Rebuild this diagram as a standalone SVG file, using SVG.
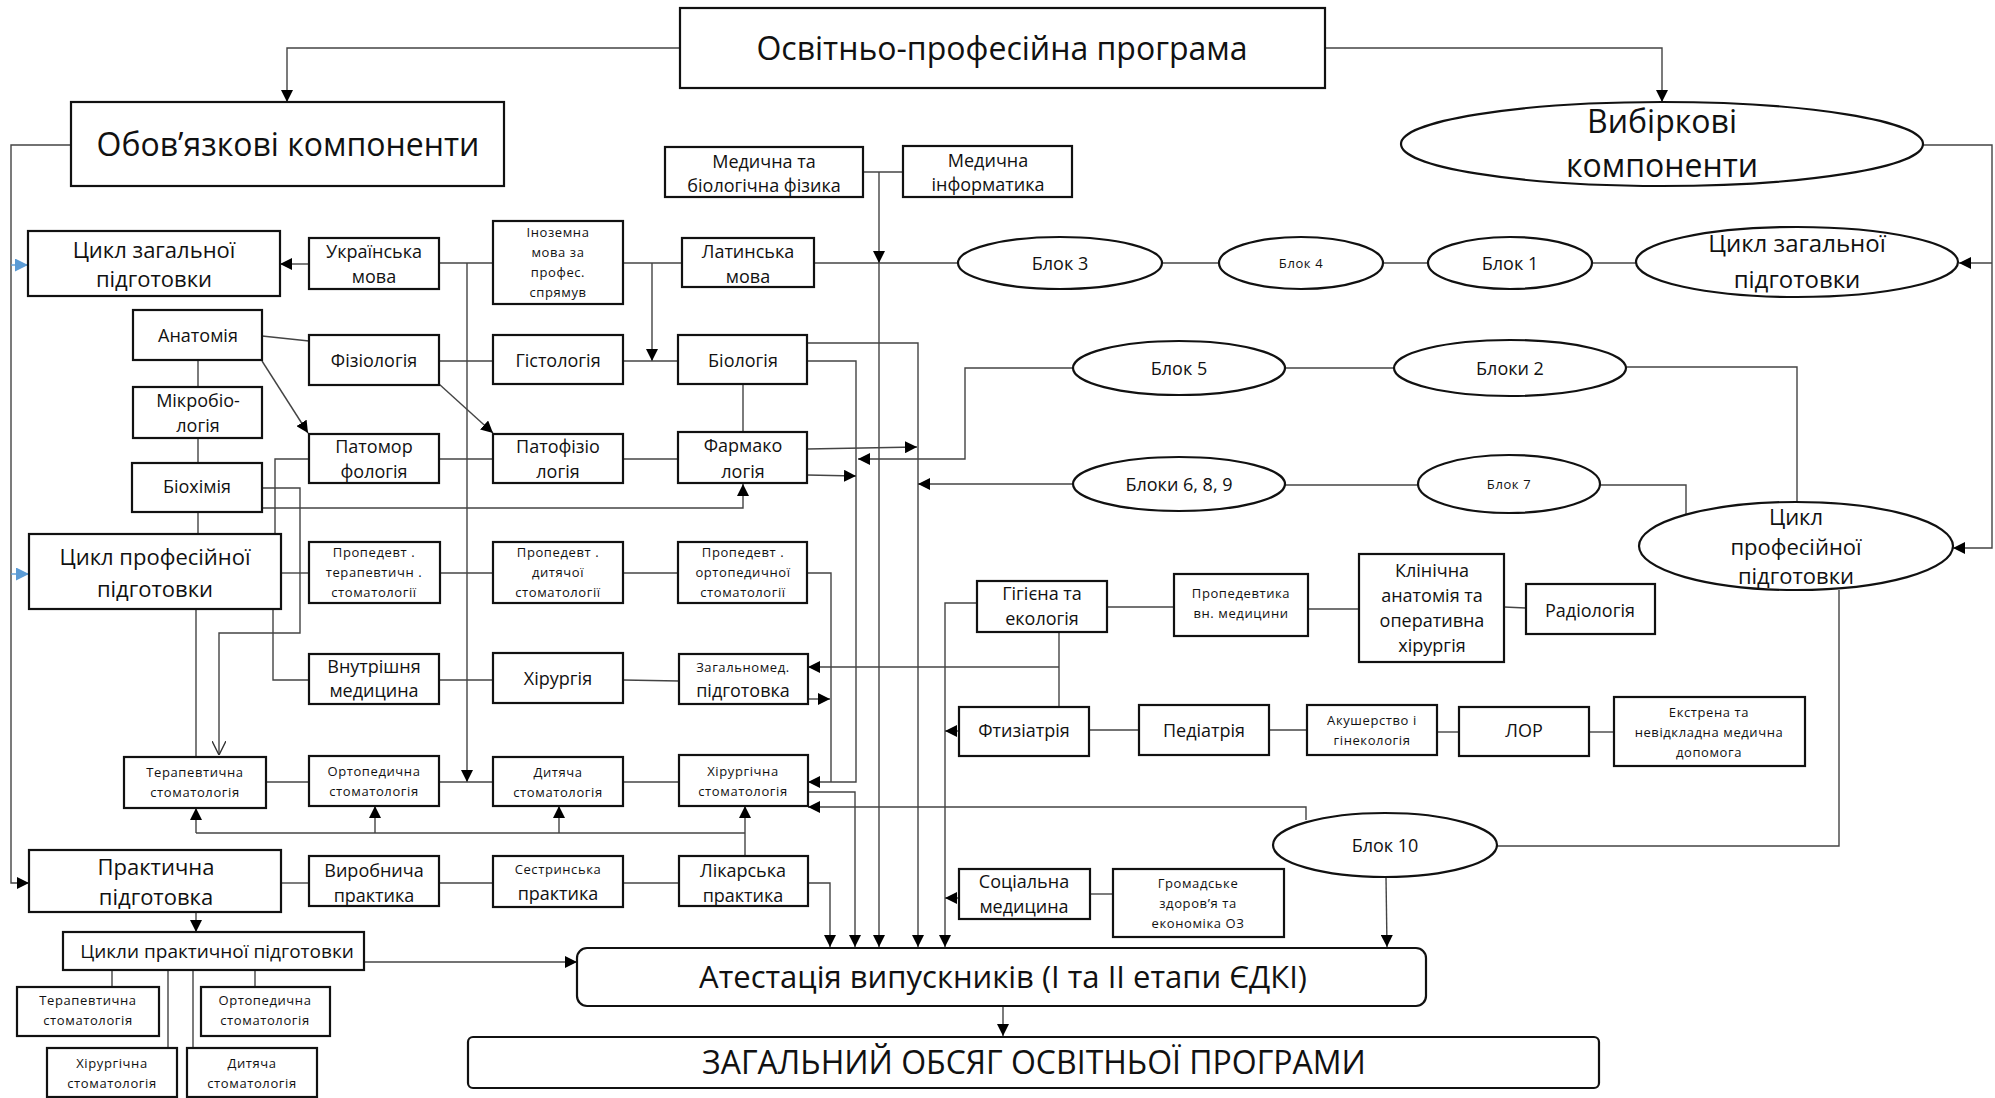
<svg xmlns="http://www.w3.org/2000/svg" width="1995" height="1098" viewBox="0 0 1995 1098">
<defs>
<marker id="ah" viewBox="0 0 12 12" refX="12" refY="6" markerWidth="12" markerHeight="12" orient="auto" markerUnits="userSpaceOnUse"><path d="M0,0 L12,6 L0,12 z" fill="#000"/></marker>
<marker id="ahb" viewBox="0 0 12 12" refX="12" refY="6" markerWidth="13" markerHeight="13" orient="auto" markerUnits="userSpaceOnUse"><path d="M0,0 L12,6 L0,12 z" fill="#5b9bd5"/></marker>
<marker id="aho" viewBox="0 0 12 12" refX="12" refY="6" markerWidth="14" markerHeight="14" orient="auto" markerUnits="userSpaceOnUse"><path d="M0,0 L12,6 L0,12" fill="none" stroke="#333" stroke-width="1.2"/></marker>
</defs>
<style>
rect,ellipse{fill:#fff;stroke:#111;stroke-width:2.2}
text{font-family:"Open Sans","Noto Sans",sans-serif;fill:#111;text-anchor:middle}
.b{font-size:32px}
.m{font-size:22px}
.n{font-size:18px}
.s{font-size:13px;letter-spacing:0.6px}
#conn polyline,#conn line{fill:none;stroke:#444;stroke-width:1.4}
#conn .a{marker-end:url(#ah)}
</style>
<rect width="1995" height="1098" style="fill:#fff;stroke:none"/>

<g id="conn">
<polyline points="680,48 287,48 287,102" class="a"/>
<polyline points="1325,48 1662,48 1662,102" class="a"/>
<polyline points="71,145 11,145 11,883 29,883" class="a"/>
<line x1="11" y1="265" x2="28" y2="265" style="stroke:#5b9bd5;marker-end:url(#ahb)"/>
<line x1="11" y1="574" x2="29" y2="574" style="stroke:#5b9bd5;marker-end:url(#ahb)"/>
<polyline points="309,264 280,264" class="a"/>
<polyline points="439,263 493,263"/>
<polyline points="467,263 467,782" class="a"/>
<polyline points="623,263 682,263"/>
<polyline points="652,263 652,361" class="a"/>
<polyline points="814,263 958,263"/>
<polyline points="863,172 903,172"/>
<polyline points="879,172 879,263" class="a"/>
<polyline points="879,263 879,947" class="a"/>
<polyline points="1162,263 1219,263"/>
<polyline points="1383,263 1428,263"/>
<polyline points="1592,263 1636,263"/>
<polyline points="1923,145 1992,145 1992,548 1953,548" class="a"/>
<polyline points="1992,263 1959,263" class="a"/>
<polyline points="262,336 309,341"/>
<polyline points="198,360 198,387"/>
<polyline points="198,438 198,463"/>
<polyline points="198,512 198,534"/>
<polyline points="262,361 308,433" class="a"/>
<polyline points="439,361 493,361"/>
<polyline points="439,384 493,433" class="a"/>
<polyline points="623,361 678,361"/>
<polyline points="807,343 918,343 918,947" class="a"/>
<polyline points="807,361 856,361 856,782 808,782" class="a"/>
<polyline points="743,384 743,432"/>
<polyline points="439,459 493,459"/>
<polyline points="623,459 678,459"/>
<polyline points="807,449 917,447" class="a"/>
<polyline points="807,475 856,476" class="a"/>
<polyline points="1073,368 965,368 965,459 858,459" class="a"/>
<polyline points="1073,484 918,484" class="a"/>
<polyline points="1285,368 1394,368"/>
<polyline points="1285,485 1418,485"/>
<polyline points="1626,367 1797,367 1797,502"/>
<polyline points="1600,485 1686,485 1686,514"/>
<polyline points="309,459 275,459 275,534"/>
<polyline points="273,609 273,680 309,680"/>
<polyline points="262,488 300,488 300,633 219,633 219,755" style="marker-end:url(#aho)"/>
<polyline points="262,508 743,508 743,484" class="a"/>
<polyline points="281,573 309,573"/>
<polyline points="440,573 493,573"/>
<polyline points="623,573 678,573"/>
<polyline points="807,573 831,573 831,782"/>
<polyline points="808,699 830,699" class="a"/>
<polyline points="1059,667 808,667" class="a"/>
<polyline points="439,680 493,680"/>
<polyline points="623,680 679,681"/>
<polyline points="196,609 196,757"/>
<polyline points="266,782 309,782"/>
<polyline points="439,782 493,782"/>
<polyline points="623,782 679,782"/>
<polyline points="808,792 855,792 855,947" class="a"/>
<polyline points="1306,820 1306,807 808,807" class="a"/>
<polyline points="745,856 745,806" class="a"/>
<polyline points="196,833 745,833"/>
<polyline points="196,833 196,808" class="a"/>
<polyline points="375,833 375,806" class="a"/>
<polyline points="559,833 559,806" class="a"/>
<polyline points="281,883 309,883"/>
<polyline points="439,883 493,883"/>
<polyline points="623,883 679,883"/>
<polyline points="808,883 830,883 830,947" class="a"/>
<polyline points="196,912 196,932" class="a"/>
<polyline points="364,962 577,962" class="a"/>
<polyline points="112,970 112,987"/>
<polyline points="255,970 255,987"/>
<polyline points="168,970 168,1048"/>
<polyline points="193,970 193,1048"/>
<polyline points="977,603 945,603 945,947" class="a"/>
<polyline points="959,731 945,731" class="a"/>
<polyline points="959,898 945,898" class="a"/>
<polyline points="1107,607 1174,607"/>
<polyline points="1308,609 1359,609"/>
<polyline points="1504,607 1526,608"/>
<polyline points="1059,632 1059,707"/>
<polyline points="1089,730 1139,730"/>
<polyline points="1269,730 1307,730"/>
<polyline points="1437,732 1459,732"/>
<polyline points="1589,732 1614,732"/>
<polyline points="1090,894 1113,894"/>
<polyline points="1839,590 1839,846 1497,846"/>
<polyline points="1386,877 1387,947" class="a"/>
<polyline points="1003,1006 1003,1036" class="a"/>
</g>

<g id="n-top"><rect x="680" y="8" width="645" height="80"/><text class="b" x="1002" y="60">Освітньо-професійна програма</text></g>
<g id="n-obov"><rect x="71" y="102" width="433" height="84"/><text class="b" x="288" y="156">Обов’язкові компоненти</text></g>
<g id="n-vyb"><ellipse cx="1662" cy="144" rx="261" ry="42"/><text class="b" x="1662" y="133">Вибіркові</text><text class="b" x="1662" y="177">компоненти</text></g>

<g id="n-czp"><rect x="28" y="231" width="252" height="65"/><text class="m" x="154" y="258">Цикл загальної</text><text class="m" x="154" y="287">підготовки</text></g>
<g id="n-ukr"><rect x="309" y="238" width="130" height="51"/><text class="n" x="374" y="258">Українська</text><text class="n" x="374" y="283">мова</text></g>
<g id="n-inoz"><rect x="493" y="221" width="130" height="83"/><text class="s" x="558" y="237">Іноземна</text><text class="s" x="558" y="257">мова за</text><text class="s" x="558" y="277">профес.</text><text class="s" x="558" y="297">спрямув</text></g>
<g id="n-medfiz"><rect x="665" y="147" width="198" height="50"/><text class="n" x="764" y="168">Медична та</text><text class="n" x="764" y="192">біологічна фізика</text></g>
<g id="n-medinf"><rect x="903" y="146" width="169" height="51"/><text class="n" x="988" y="167">Медична</text><text class="n" x="988" y="191">інформатика</text></g>
<g id="n-latin"><rect x="682" y="238" width="132" height="49"/><text class="n" x="748" y="258">Латинська</text><text class="n" x="748" y="283">мова</text></g>

<g id="n-anat"><rect x="133" y="310" width="129" height="50"/><text class="n" x="198" y="342">Анатомія</text></g>
<g id="n-fiz"><rect x="309" y="335" width="130" height="50"/><text class="n" x="374" y="367">Фізіологія</text></g>
<g id="n-gist"><rect x="493" y="335" width="130" height="49"/><text class="n" x="558" y="367">Гістологія</text></g>
<g id="n-biol"><rect x="678" y="335" width="129" height="49"/><text class="n" x="743" y="367">Біологія</text></g>
<g id="n-mikr"><rect x="133" y="387" width="129" height="51"/><text class="n" x="198" y="407">Мікробіо-</text><text class="n" x="198" y="432">логія</text></g>
<g id="n-patm"><rect x="309" y="434" width="130" height="49"/><text class="n" x="374" y="453">Патомор</text><text class="n" x="374" y="478">фологія</text></g>
<g id="n-patf"><rect x="493" y="434" width="130" height="49"/><text class="n" x="558" y="453">Патофізіо</text><text class="n" x="558" y="478">логія</text></g>
<g id="n-farm"><rect x="678" y="432" width="129" height="51"/><text class="n" x="743" y="452">Фармако</text><text class="n" x="743" y="478">логія</text></g>
<g id="n-bioh"><rect x="132" y="463" width="130" height="49"/><text class="n" x="197" y="493">Біохімія</text></g>

<g id="n-czprof"><rect x="29" y="534" width="252" height="75"/><text class="m" x="155" y="565">Цикл професійної</text><text class="m" x="155" y="597">підготовки</text></g>
<g id="n-pter"><rect x="309" y="542" width="131" height="61"/><text class="s" x="374" y="557">Пропедевт .</text><text class="s" x="374" y="577">терапевтичн .</text><text class="s" x="374" y="597">стоматології</text></g>
<g id="n-pdyt"><rect x="493" y="542" width="130" height="61"/><text class="s" x="558" y="557">Пропедевт .</text><text class="s" x="558" y="577">дитячої</text><text class="s" x="558" y="597">стоматології</text></g>
<g id="n-port"><rect x="678" y="542" width="129" height="61"/><text class="s" x="743" y="557">Пропедевт .</text><text class="s" x="743" y="577">ортопедичної</text><text class="s" x="743" y="597">стоматології</text></g>
<g id="n-vnut"><rect x="309" y="654" width="130" height="50"/><text class="n" x="374" y="673">Внутрішня</text><text class="n" x="374" y="697">медицина</text></g>
<g id="n-hir"><rect x="493" y="653" width="130" height="50"/><text class="n" x="558" y="685">Хірургія</text></g>
<g id="n-zagm"><rect x="679" y="654" width="129" height="50"/><text class="s" x="743" y="672">Загальномед.</text><text class="n" x="743" y="697">підготовка</text></g>

<g id="n-ters1"><rect x="124" y="757" width="142" height="51"/><text class="s" x="195" y="777">Терапевтична</text><text class="s" x="195" y="797">стоматологія</text></g>
<g id="n-orts1"><rect x="309" y="756" width="130" height="50"/><text class="s" x="374" y="776">Ортопедична</text><text class="s" x="374" y="796">стоматологія</text></g>
<g id="n-dyts1"><rect x="493" y="757" width="130" height="49"/><text class="s" x="558" y="777">Дитяча</text><text class="s" x="558" y="797">стоматологія</text></g>
<g id="n-hirs1"><rect x="679" y="755" width="129" height="51"/><text class="s" x="743" y="776">Хірургічна</text><text class="s" x="743" y="796">стоматологія</text></g>

<g id="n-prakt"><rect x="29" y="850" width="252" height="62"/><text class="m" x="156" y="875">Практична</text><text class="m" x="156" y="905">підготовка</text></g>
<g id="n-vyrob"><rect x="309" y="856" width="130" height="50"/><text class="n" x="374" y="877">Виробнича</text><text class="n" x="374" y="902">практика</text></g>
<g id="n-sestr"><rect x="493" y="856" width="130" height="51"/><text class="s" x="558" y="874">Сестринська</text><text class="n" x="558" y="900">практика</text></g>
<g id="n-likar"><rect x="679" y="856" width="129" height="50"/><text class="n" x="743" y="877">Лікарська</text><text class="n" x="743" y="902">практика</text></g>
<g id="n-cykly"><rect x="63" y="932" width="301" height="38"/><text class="n" x="217" y="958" style="font-size:19px">Цикли практичної підготовки</text></g>
<g id="n-ters2"><rect x="17" y="987" width="142" height="49"/><text class="s" x="88" y="1005">Терапевтична</text><text class="s" x="88" y="1025">стоматологія</text></g>
<g id="n-orts2"><rect x="201" y="987" width="129" height="49"/><text class="s" x="265" y="1005">Ортопедична</text><text class="s" x="265" y="1025">стоматологія</text></g>
<g id="n-hirs2"><rect x="47" y="1048" width="130" height="49"/><text class="s" x="112" y="1068">Хірургічна</text><text class="s" x="112" y="1088">стоматологія</text></g>
<g id="n-dyts2"><rect x="187" y="1048" width="130" height="49"/><text class="s" x="252" y="1068">Дитяча</text><text class="s" x="252" y="1088">стоматологія</text></g>

<g id="n-blok3"><ellipse cx="1060" cy="263" rx="102" ry="26"/><text class="n" x="1060" y="270">Блок 3</text></g>
<g id="n-blok4"><ellipse cx="1301" cy="263" rx="82" ry="26"/><text class="s" x="1301" y="268">Блок 4</text></g>
<g id="n-blok1"><ellipse cx="1510" cy="263" rx="82" ry="26"/><text class="n" x="1510" y="270">Блок 1</text></g>
<g id="n-czpE"><ellipse cx="1797" cy="262" rx="161" ry="35"/><text class="m" x="1797" y="252" style="font-size:24px">Цикл загальної</text><text class="m" x="1797" y="288" style="font-size:24px">підготовки</text></g>
<g id="n-blok5"><ellipse cx="1179" cy="368" rx="106" ry="27"/><text class="n" x="1179" y="375">Блок 5</text></g>
<g id="n-bloky2"><ellipse cx="1510" cy="368" rx="116" ry="28"/><text class="n" x="1510" y="375">Блоки 2</text></g>
<g id="n-blok689"><ellipse cx="1179" cy="484" rx="106" ry="27"/><text class="n" x="1179" y="491">Блоки 6, 8, 9</text></g>
<g id="n-blok7"><ellipse cx="1509" cy="484" rx="91" ry="29"/><text class="s" x="1509" y="489">Блок 7</text></g>
<g id="n-czprE"><ellipse cx="1796" cy="546" rx="157" ry="44"/><text class="m" x="1796" y="525">Цикл</text><text class="m" x="1796" y="555">професійної</text><text class="m" x="1796" y="584">підготовки</text></g>

<g id="n-gig"><rect x="977" y="581" width="130" height="51"/><text class="n" x="1042" y="600">Гігієна та</text><text class="n" x="1042" y="625">екологія</text></g>
<g id="n-propvn"><rect x="1174" y="574" width="134" height="62"/><text class="s" x="1241" y="598">Пропедевтика</text><text class="s" x="1241" y="618">вн. медицини</text></g>
<g id="n-klin"><rect x="1359" y="554" width="145" height="108"/><text class="n" x="1432" y="577">Клінічна</text><text class="n" x="1432" y="602">анатомія та</text><text class="n" x="1432" y="627">оперативна</text><text class="n" x="1432" y="652">хірургія</text></g>
<g id="n-radio"><rect x="1526" y="584" width="129" height="50"/><text class="n" x="1590" y="617">Радіологія</text></g>
<g id="n-ftyz"><rect x="959" y="707" width="130" height="49"/><text class="n" x="1024" y="737">Фтизіатрія</text></g>
<g id="n-ped"><rect x="1139" y="705" width="130" height="50"/><text class="n" x="1204" y="737">Педіатрія</text></g>
<g id="n-akush"><rect x="1307" y="705" width="130" height="50"/><text class="s" x="1372" y="725">Акушерство і</text><text class="s" x="1372" y="745">гінекологія</text></g>
<g id="n-lor"><rect x="1459" y="707" width="130" height="49"/><text class="n" x="1524" y="737">ЛОР</text></g>
<g id="n-ekstr"><rect x="1614" y="697" width="191" height="69"/><text class="s" x="1709" y="717">Екстрена та</text><text class="s" x="1709" y="737">невідкладна медична</text><text class="s" x="1709" y="757">допомога</text></g>
<g id="n-socm"><rect x="959" y="869" width="131" height="50"/><text class="n" x="1024" y="888">Соціальна</text><text class="n" x="1024" y="913">медицина</text></g>
<g id="n-grom"><rect x="1113" y="869" width="171" height="68"/><text class="s" x="1198" y="888">Громадське</text><text class="s" x="1198" y="908">здоров’я та</text><text class="s" x="1198" y="928">економіка ОЗ</text></g>
<g id="n-blok10"><ellipse cx="1385" cy="845" rx="112" ry="32"/><text class="n" x="1385" y="852">Блок 10</text></g>

<g id="n-atest"><rect x="577" y="948" width="849" height="58" rx="10"/><text class="b" x="1003" y="988" style="font-size:31px">Атестація випускників (I та II етапи ЄДКІ)</text></g>
<g id="n-zag"><rect x="468" y="1037" width="1131" height="51" rx="5"/><text class="b" x="1034" y="1074">ЗАГАЛЬНИЙ ОБСЯГ ОСВІТНЬОЇ ПРОГРАМИ</text></g>
</svg>
